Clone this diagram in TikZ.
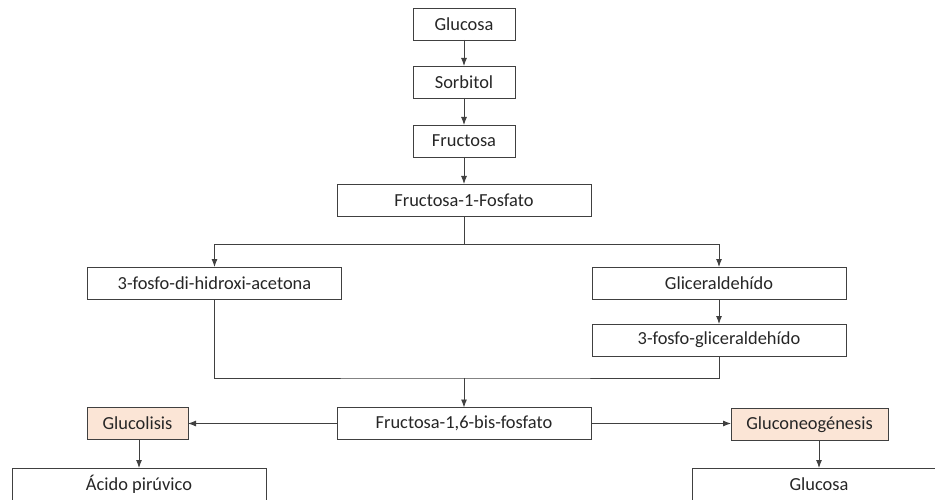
\documentclass[tikz,border=0pt]{standalone}
\usepackage{fontspec}
\setmainfont{Carlito}
\usetikzlibrary{positioning, arrows.meta}
\definecolor{peach}{RGB}{251,229,214}
\tikzset{
    x=1pt, y=-1pt, % one unit is one pixel of the reference, y runs down
    >={Latex[length=8pt, width=6pt]}, % filled triangular arrow heads
    box/.style={draw=black!75, fill=white, minimum height=32pt, inner sep=0pt, outer sep=0pt,
        font=\fontsize{18.4}{20}\selectfont, text=black!85}, % sets the properties of every box
    wide/.style={minimum width=254pt}, % the long boxes
    small/.style={minimum width=102pt}, % the short boxes
    hl/.style={fill=peach}, % the two pathway boxes
}
\begin{document}
\begin{tikzpicture}[line width=0.9pt, color=black!75]
    \useasboundingbox (0,0) rectangle (935,500);
    \node[box, small] (glu) at (464,24) {Glucosa};
    \node[box, small, below=26pt of glu] (sor) {Sorbitol};
    \node[box, small, below=27pt of sor] (fru) {Fructosa};
    \node[box, wide, below=27pt of fru] (f1p) {Fructosa-1-Fosfato};
    \node[box, wide] (dhap) at (214.5,283) {3-fosfo-di-hidroxi-acetona};
    \node[box, wide] (gli) at (719,283) {Gliceraldehído};
    \node[box, wide, below=25pt of gli] (g3p) {3-fosfo-gliceraldehído};
    \node[box, wide] (f16) at (464,423.5) {Fructosa-1,6-bis-fosfato};
    \node[box, hl, minimum width=101pt] (gluc) at (137.5,423.5) {Glucolisis};
    \node[box, hl, minimum width=157pt] (neo) at (809.5,424.5) {Gluconeogénesis};
    \node[box, wide] (acido) at (139,484) {Ácido pirúvico};
    \node[box, wide] (glc) at (819,484) {Glucosa};
    \coordinate (merge) at (464,378);
    \draw[->] (glu) -- (sor);
    \draw[->] (sor) -- (fru);
    \draw[->] (fru) -- (f1p);
    \draw (f1p.south) -- ++(0,28) coordinate (split);
    \draw[->] (split) -| (dhap.north);
    \draw[->] (split) -| (gli.north);
    \draw[->] (gli) -- (g3p);
    \draw (dhap.south) |- (merge) -| (g3p.south);
    \draw[->] (merge) -- (f16.north);
    \draw[->] (f16.west) -- (gluc.east);
    \draw[->] (f16.east) -- (neo.west |- f16.east);
    \draw[->] (gluc.south -| acido.north) -- (acido.north);
    \draw[->] (neo.south -| glc.north) -- (glc.north);
\end{tikzpicture}
\end{document}
